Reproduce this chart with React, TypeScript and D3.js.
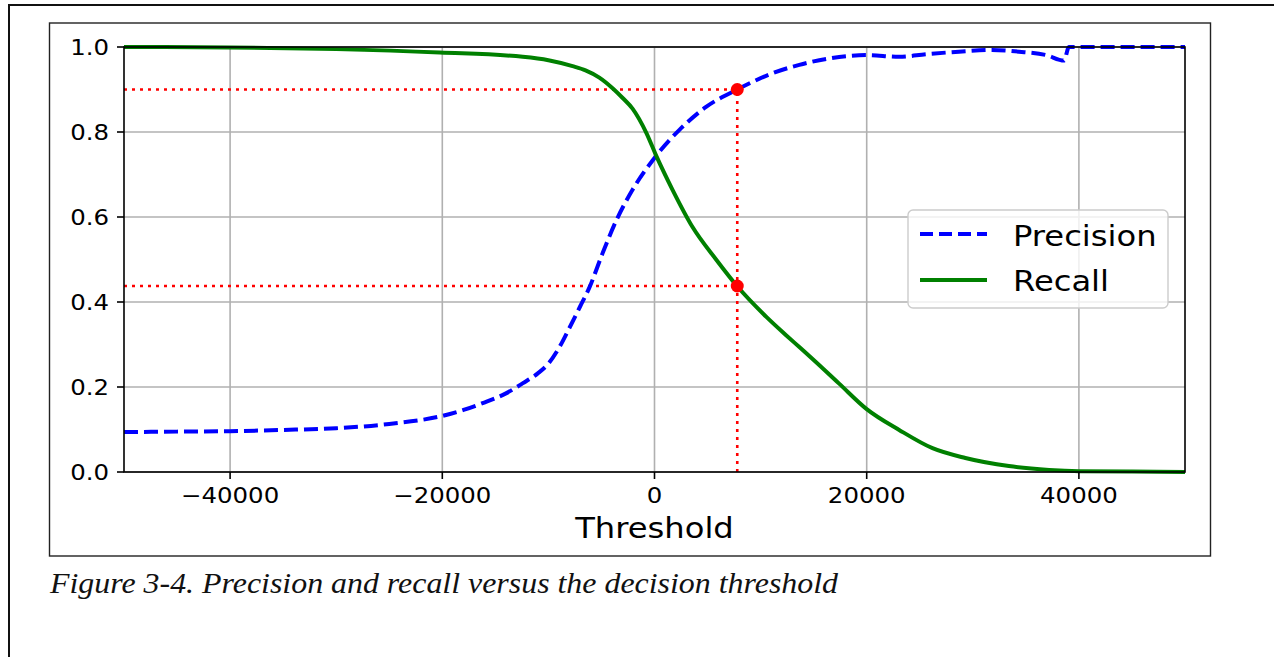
import * as d3 from "d3";

// Precision / recall against decision threshold
const precisionThresholds = [
  -50000, -45000, -40000, -35000, -30000, -25000, -20000, -18000, -16200, -14000,
  -12400, -11000, -10000, -9000, -8000, -7000, -6120, -4890, -3580, -2070, 0, 2350,
  4860, 7800, 11100, 13650, 16200, 20000, 23060, 25600, 28700, 31800, 34350, 36900,
  38600, 39060, 45000, 50000,
];
const precisionValues = [
  0.094, 0.095, 0.096, 0.099, 0.103, 0.113, 0.132, 0.146, 0.162, 0.185,
  0.209, 0.232, 0.255, 0.292, 0.34, 0.39, 0.435, 0.515, 0.593, 0.664, 0.739, 0.805,
  0.859, 0.9, 0.938, 0.958, 0.972, 0.981, 0.977, 0.983, 0.989, 0.993, 0.989, 0.981,
  0.968, 1.0, 1.0, 1.0,
];

const recallThresholds = [
  -50000, -40000, -30000, -20240, -12420, -10000, -7720, -6500, -5200, -3950, -3000,
  -2070, -750, 200, 1700, 3570, 5840, 7800, 10540, 12400, 13650, 14900, 17400, 20000,
  23060, 26200, 29300, 33400, 37200, 40000, 45000, 50000,
];
const recallValues = [
  1.0, 0.999, 0.995, 0.987, 0.977, 0.969, 0.955, 0.945, 0.928, 0.903, 0.88,
  0.855, 0.797, 0.742, 0.664, 0.577, 0.499, 0.437, 0.365, 0.322, 0.294, 0.266, 0.208, 0.148,
  0.099, 0.056, 0.033, 0.014, 0.005, 0.002, 0.001, 0.0,
];

// the operating point marked by the red dots
const chosenThreshold = 7800;
const chosenPrecision = 0.9;
const chosenRecall = 0.4376;

const xTicks = [-40000, -20000, 0, 20000, 40000];
const yTicks = [0, 0.2, 0.4, 0.6, 0.8, 1.0];
const legendLabels = ["Precision", "Recall"];
const caption = "Figure 3-4. Precision and recall versus the decision threshold";

const W = 1274;
const H = 657;
const plot = { left: 124, top: 47, right: 1185, bottom: 472 };
const stretch = 1.11; // the scan is a little wider than tall
const tickFont = 22;
const bigFont = 29;
const sans = "DejaVu Sans, sans-serif";

function Label({ x, y, size, anchor = "start", children }: any) {
  return (
    <text
      transform={`translate(${x},${y}) scale(${stretch},1)`}
      textAnchor={anchor}
      fontFamily={sans}
      fontSize={size}
      fill="#000"
    >
      {children}
    </text>
  );
}

export default function App() {
  const x = d3.scaleLinear().domain([-50000, 50000]).range([plot.left, plot.right]);
  const y = d3.scaleLinear().domain([0, 1]).range([plot.bottom, plot.top]);

  const line = d3
    .line<[number, number]>()
    .x((d) => x(d[0]))
    .y((d) => y(d[1]))
    .curve(d3.curveMonotoneX);

  const precisionPath = line(precisionThresholds.map((t, i) => [t, precisionValues[i]]));
  const recallPath = line(recallThresholds.map((t, i) => [t, recallValues[i]]));

  const fmtX = (v: number) => (v < 0 ? "\u2212" + Math.abs(v) : String(v));
  const fmtY = d3.format(".1f");

  const dotted = { stroke: "#ff0000", strokeWidth: 2.6, strokeDasharray: "3 5", fill: "none" };
  const tx = x(chosenThreshold);

  const legend = { x: 908, y: 210, w: 260, h: 98 };

  return (
    <svg
      width={W}
      height={H}
      style={{ position: "absolute", left: 0, top: 0, background: "#fff" }}
    >
      {/* page edge */}
      <path d={`M9,${H} V5 H${W}`} fill="none" stroke="#111" strokeWidth={2} />
      {/* figure frame */}
      <rect x={49.5} y={23} width={1161} height={533} fill="#fff" stroke="#222" strokeWidth={1.4} />

      {/* grid */}
      <g stroke="#b0b0b0" strokeWidth={1.6}>
        {xTicks.map((t) => (
          <line key={"gx" + t} x1={x(t)} x2={x(t)} y1={plot.top} y2={plot.bottom} />
        ))}
        {yTicks.map((t) => (
          <line key={"gy" + t} x1={plot.left} x2={plot.right} y1={y(t)} y2={y(t)} />
        ))}
      </g>

      {/* threshold guides */}
      <line x1={plot.left} x2={tx} y1={y(chosenPrecision)} y2={y(chosenPrecision)} {...dotted} />
      <line x1={plot.left} x2={tx} y1={y(chosenRecall)} y2={y(chosenRecall)} {...dotted} />
      <line x1={tx} x2={tx} y1={y(0)} y2={y(chosenPrecision)} {...dotted} />

      {/* curves */}
      <path d={precisionPath || ""} fill="none" stroke="#0000ff" strokeWidth={4} strokeDasharray="14 6" />
      <path d={recallPath || ""} fill="none" stroke="#008000" strokeWidth={4} />

      <circle cx={tx} cy={y(chosenPrecision)} r={6.5} fill="#ff0000" />
      <circle cx={tx} cy={y(chosenRecall)} r={6.5} fill="#ff0000" />

      {/* spines and ticks */}
      <rect
        x={plot.left}
        y={plot.top}
        width={plot.right - plot.left}
        height={plot.bottom - plot.top}
        fill="none"
        stroke="#000"
        strokeWidth={1.6}
      />
      <g stroke="#000" strokeWidth={1.6}>
        {xTicks.map((t) => (
          <line key={"tx" + t} x1={x(t)} x2={x(t)} y1={plot.bottom} y2={plot.bottom + 7} />
        ))}
        {yTicks.map((t) => (
          <line key={"ty" + t} x1={plot.left - 7} x2={plot.left} y1={y(t)} y2={y(t)} />
        ))}
      </g>
      {xTicks.map((t) => (
        <Label key={"lx" + t} x={x(t)} y={plot.bottom + 31} size={tickFont} anchor="middle">
          {fmtX(t)}
        </Label>
      ))}
      {yTicks.map((t) => (
        <Label key={"ly" + t} x={plot.left - 15} y={y(t) + 8} size={tickFont} anchor="end">
          {fmtY(t)}
        </Label>
      ))}
      <Label x={x(0)} y={538} size={bigFont} anchor="middle">
        Threshold
      </Label>

      {/* legend */}
      <rect
        x={legend.x}
        y={legend.y}
        width={legend.w}
        height={legend.h}
        rx={5}
        fill="#fff"
        fillOpacity={0.8}
        stroke="#cccccc"
        strokeWidth={1.4}
      />
      <line x1={920} x2={987} y1={234} y2={234} stroke="#0000ff" strokeWidth={4} strokeDasharray="13 6" />
      <line x1={920} x2={987} y1={280} y2={280} stroke="#008000" strokeWidth={4} />
      <Label x={1013} y={246} size={bigFont}>
        {legendLabels[0]}
      </Label>
      <Label x={1013} y={291} size={bigFont}>
        {legendLabels[1]}
      </Label>

      {/* caption */}
      <text
        x={50}
        y={593}
        fontFamily="Liberation Serif, serif"
        fontStyle="italic"
        fontSize={29}
        textLength={788}
        lengthAdjust="spacingAndGlyphs"
        fill="#111"
      >
        {caption}
      </text>
    </svg>
  );
}
